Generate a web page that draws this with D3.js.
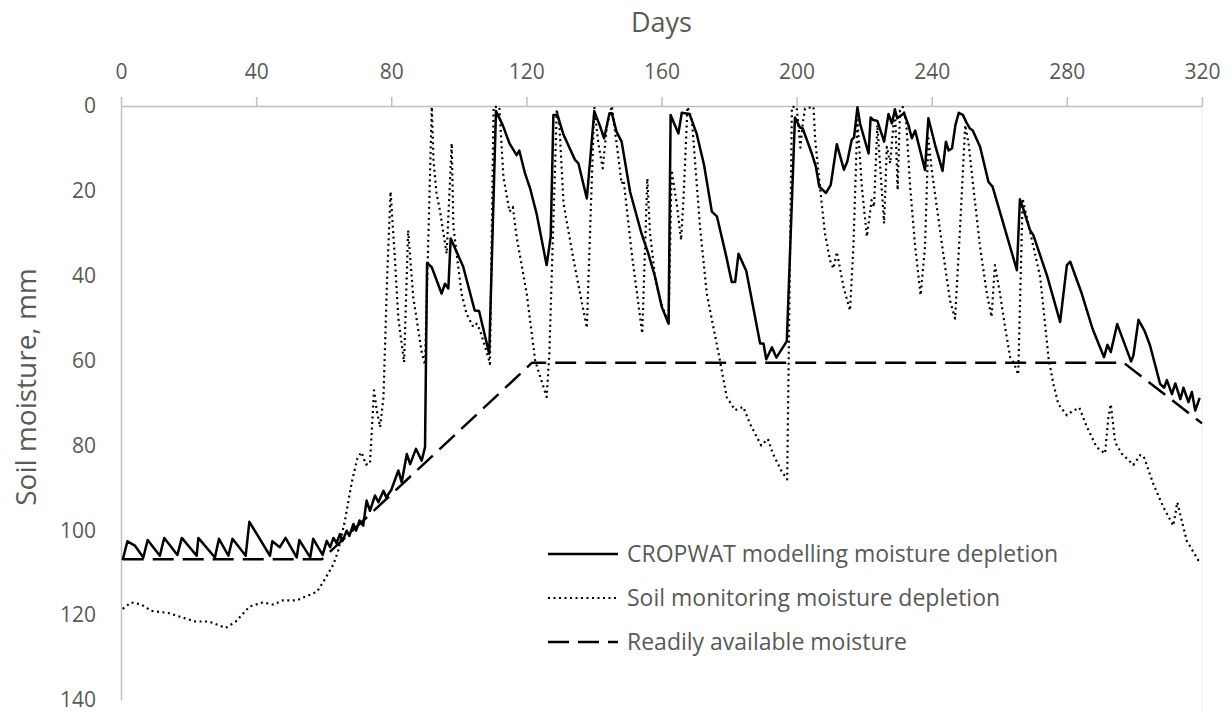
<!DOCTYPE html>
<html>
<head>
<meta charset="utf-8">
<script src="https://cdn.jsdelivr.net/npm/d3@7"></script>
<style>
  body { margin: 0; background: #fff; }
  .axis text, .text { font-family: "Open Sans", "Noto Sans", sans-serif; fill: #595959; }
</style>
</head>
<body>
<div class="chart"></div>
<script>
// CROPWAT modelled depletion: [day, mm]
var cropwat = [
  [0.5,107],[1.9,102.6],[4.1,103.6],[6.6,106.4],[7.9,102.3],[11.5,106],[12.8,101.8],[16.7,105.8],
  [18,101.8],[22.4,106],[22.9,101.8],[27.8,106.4],[29,102],[31.8,106],[33,102],[36.9,106],[38,98],
  [44.1,106],[44.8,102.6],[47,104],[48.7,101.8],[52,106.4],[52.8,102.3],[56,106.4],[56.9,102],
  [59.7,105.8],[60.9,102.5],[61.9,104],[62.9,101.8],[63.8,103],[64.8,100.9],[65.6,102.5],[66.8,100.1],
  [67.6,101.3],[68.8,98.5],[69.6,100.1],[70.6,97.7],[71.7,98.9],[72.7,93],[73.7,95.4],[75.2,91.8],
  [76.2,93.4],[77.7,90.7],[78.5,92.2],[80,90.5],[82.1,85.9],[83.1,88.7],[84.6,82],[85.6,84.4],
  [87.3,80.8],[89,83.6],[90,80.4],[90.6,37],[92,38],[94.9,44.2],[95.9,41.9],[96.9,43],[97.6,31.2],
  [101.3,37.9],[104.7,48.2],[106,48.3],[109,58.4],[111,1.2],[113,4.5],[115,8.8],[117.1,11.6],
  [117.9,10.5],[119.6,15.9],[121.1,19.4],[123,25.3],[126,37.5],[127.2,30.8],[128,2.1],[129.2,2.1],
  [131,6.8],[134.4,12.7],[135.4,13.5],[137.9,21.8],[140.1,1.3],[141.7,4.5],[143,7.6],[144.6,1.7],
  [145.3,1.7],[146.7,6.1],[148.2,8.4],[150.7,20.2],[154.1,30.1],[156.1,34.8],[158.1,40.3],[160.1,47.4],
  [162.1,51.3],[162.7,2.1],[165,6.5],[166,1.6],[168.3,1.9],[170.4,6.5],[172.6,13.9],[174.9,24.9],
  [176.4,26],[179.1,35.2],[180.8,41.5],[181.8,41.5],[182.8,34.8],[185.1,38.9],[189.2,56],[190.2,56],
  [191,59.7],[192.7,56.9],[194,59.3],[197.1,55.4],[199.5,2.7],[201,5.1],[201.8,5.3],[204.5,11.2],
  [205.7,14.3],[206.7,19],[208.7,20.5],[210.1,18.6],[211.9,9],[214,15],[215,13.1],[216.3,8],
  [217,7.4],[218,0.3],[218.8,4.2],[221.3,11.2],[221.9,2.7],[222.7,3.3],[223.9,3.5],[225.9,8.4],
  [227.2,1.9],[228.2,4.1],[229.1,0.9],[229.8,2.9],[231.8,1.7],[233.1,4.5],[234.1,7.6],[235.1,5.8],
  [238,15.1],[239,2.9],[241,9.2],[243.2,15.3],[244.2,8.4],[245,10.5],[246,10],[247,4.5],[248,1.6],
  [249.2,2.1],[250.4,4.1],[251.3,5.3],[252.1,5.7],[254.3,9.6],[256.8,17.9],[258,19],[261.2,27.7],
  [265.2,38.7],[266.1,22],[266.9,23.8],[269.1,29.3],[270.1,30.5],[274.1,39.9],[278,50.9],[280,37.5],
  [281,36.7],[284.4,44.2],[287.6,52.5],[291,59.2],[292,56.3],[293,58],[294.9,51.4],[299,60.2],
  [299.7,58.8],[301.2,50.4],[303,53],[304.6,56.4],[307.6,65.5],[308.8,66.4],[309.6,64.6],[311.1,67.9],
  [312.1,65.4],[313.6,69.1],[314.5,66.4],[316,69.8],[317,67.4],[318,71.8],[319.3,68.8]
];

// soil monitoring depletion: [day, mm]
var monitoring = [
  [0.5,118.5],[3,117],[6,117.5],[9,119],[14,119.5],[18,120.5],[22,121.5],[26,121.5],[31,123],
  [34,121.5],[38,118],[42,117],[45,117.5],[48,116.5],[52,116.5],[55,115.5],[58,114.5],[60,112],
  [62.9,108],[64.3,104.8],[66.3,97.7],[68.3,88.7],[70,83],[71.2,81.6],[72.5,84.5],[73.7,84.3],
  [74.9,67],[75.7,71.7],[76.7,75.7],[77.7,68.6],[78.8,40],[79.8,20.2],[81,35],[82.1,50],[83.8,60.4],
  [85,29.3],[86.5,45],[89,58],[90,61],[92,0.2],[92.5,12.7],[93.4,20.6],[94.4,24.6],[96.4,34.8],
  [97.9,8.8],[98.4,28.5],[100.8,44.2],[102.3,49],[104.3,52.1],[105.3,51.3],[106.3,52.9],[108.7,59.2],
  [109.2,60.8],[110.3,0.2],[112,0.2],[113.2,16.7],[115,24.9],[116,23.8],[117.1,30.8],[120.1,44.2],
  [122.6,60],[126,68.6],[126.8,58.4],[129,0.8],[129.8,4.9],[131,23],[134,36.4],[137.9,52.3],
  [140.1,0.2],[141.3,8.8],[142.6,14.7],[143.8,4.9],[145.3,0],[146.7,8.8],[148.2,18.3],[148.8,17.5],
  [151.2,34.8],[154.3,53.6],[155.8,17.1],[156.6,30],[158.1,40.3],[159.6,45.8],[162.1,51.3],[163,15.1],
  [164.5,23],[165.8,31.6],[166.5,22],[167.7,0.2],[169,3.3],[171.4,28.5],[173.4,44.2],[177.3,60],
  [179.3,68.6],[181.8,71.7],[184.2,70.9],[186.2,74.9],[189.5,80],[191.5,78.5],[193,82],[195.5,86],
  [197.2,88],[198.6,0.2],[200,0.2],[201.1,9.8],[201.8,4.1],[202.5,0.6],[205,0.2],[205.5,8],[207,19.8],
  [208.4,30.1],[209.9,36.4],[210.9,38.3],[211.9,34.4],[213.9,42.7],[215.8,48.2],[216.8,33.2],[218,3.3],
  [219.3,19],[220.8,30.8],[222.2,22.2],[222.9,23.8],[223.9,4.5],[225.2,19.8],[225.9,27.7],[226.7,9.6],
  [227.7,13.5],[229.1,0.2],[229.9,19.8],[230.6,1],[231.4,0.2],[232.4,3.3],[233.6,19],[235.1,33.2],
  [236.7,44.6],[238,33.2],[239,7.6],[240,15.1],[241.5,23.8],[243.4,34.8],[245.4,45.8],[246.9,50.1],
  [248.4,28.5],[249.9,4.5],[250.9,8.8],[252.3,19],[254.3,33.2],[256.3,44.2],[257.7,49.7],[258.7,37.5],
  [260.2,44.2],[261.7,52.1],[263.2,59.2],[264.2,60.4],[265.6,63.3],[266.9,21.8],[268.1,26.1],
  [270.1,33.2],[272.1,40.3],[274.6,59.6],[276,65.5],[277.5,70.3],[280,72.9],[281.5,72],[283.7,71.1],
  [285.9,75.6],[288.8,80.4],[291.3,81.9],[292.3,73.3],[293,70.3],[294.3,79.3],[296.2,81.9],[299.7,84.6],
  [301.7,82.3],[302.7,82.5],[305.6,89.1],[308.6,94.6],[311.5,98.9],[312.7,93.4],[313.5,96.1],
  [315.5,102.5],[319,107.2]
];

// readily available moisture: [day, mm]
var ram = [[0.5,106.8],[59.5,106.8],[121.7,60.5],[296.8,60.5],[320,74.8]];

var xTicks = [0, 40, 80, 120, 160, 200, 240, 280, 320];
var yTicks = [0, 20, 40, 60, 80, 100, 120, 140];

var seriesNames = [
  "CROPWAT modelling moisture depletion",
  "Soil monitoring moisture depletion",
  "Readily available moisture"
];

var width = 1231,
    height = 713,
    margin = { top: 106, right: 29, bottom: 13, left: 121 };

var svg = d3.select(".chart")
    .append("svg")
    .attr("width", width)
    .attr("height", height);

var x = d3.scaleLinear()
    .domain([0, 320])
    .range([margin.left, width - margin.right]);

var y = d3.scaleLinear()
    .domain([0, 140])
    .range([margin.top, height - margin.bottom]);

// faint right edge of the plot area
svg.append("line")
    .attr("x1", x(320)).attr("x2", x(320))
    .attr("y1", y(0)).attr("y2", height)
    .style("stroke", "#eeeeea")
    .style("stroke-width", 1);

// x axis on top
var gx = svg.append("g")
    .attr("class", "axis")
    .attr("transform", "translate(0," + y(0) + ")")
    .call(d3.axisTop(x).tickValues(xTicks).tickSize(9).tickPadding(18).tickSizeOuter(0));
gx.selectAll("text").style("font-size", "21px");

// y axis
var gy = svg.append("g")
    .attr("class", "axis")
    .attr("transform", "translate(" + x(0) + ",0)")
    .call(d3.axisLeft(y).tickValues(yTicks).tickSize(0).tickPadding(25).tickSizeOuter(0));
gy.selectAll("text").style("font-size", "21px");

svg.selectAll(".axis path, .axis line")
    .style("stroke", "#bfbfbf")
    .style("stroke-width", 1.5);

// axis titles
svg.append("text")
    .attr("class", "text")
    .attr("x", (x(0) + x(320)) / 2)
    .attr("y", 32)
    .attr("text-anchor", "middle")
    .style("font-size", "27px")
    .text("Days");

svg.append("text")
    .attr("class", "text")
    .attr("transform", "rotate(-90)")
    .attr("x", -387)
    .attr("y", 36)
    .attr("text-anchor", "middle")
    .style("font-size", "28px")
    .text("Soil moisture, mm");

var line = d3.line()
    .x(function(d) { return x(d[0]); })
    .y(function(d) { return y(d[1]); });

var styles = [
    { data: cropwat, dash: null, w: 2.5 },
    { data: monitoring, dash: "2,3.5", w: 2.2 },
    { data: ram, dash: "21,9", w: 2.5 }
];

styles.forEach(function(s) {
    svg.append("path")
        .datum(s.data)
        .attr("d", line)
        .style("fill", "none")
        .style("stroke", "#000")
        .style("stroke-width", s.w)
        .style("stroke-dasharray", s.dash)
        .style("stroke-linejoin", "round");
});

// legend
var legend = svg.append("g");
styles.forEach(function(s, i) {
    var ly = 554 + i * 44;
    legend.append("line")
        .attr("x1", 548).attr("x2", 618)
        .attr("y1", ly).attr("y2", ly)
        .style("stroke", "#000")
        .style("stroke-width", s.w)
        .style("stroke-dasharray", s.dash);
    legend.append("text")
        .attr("class", "text")
        .attr("x", 627)
        .attr("y", ly)
        .attr("dy", "0.35em")
        .style("font-size", "23px")
        .text(seriesNames[i]);
});
</script>
</body>
</html>
